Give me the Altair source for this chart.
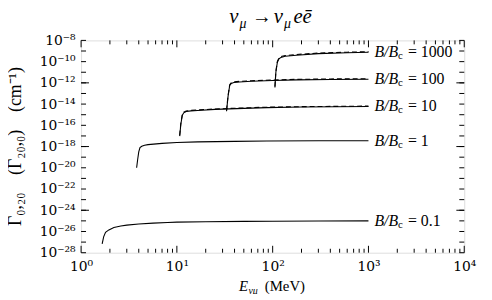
import altair as alt
import pandas as pd

# ---- data (log10 of Gamma, energies in MeV) ----
B_ratios = ["0.1", "1", "10", "100", "1000"]

E_01 = [1.66, 1.72, 1.80, 1.95, 2.2, 2.6, 3.0, 4.0, 5.66, 8, 10, 20, 50, 100, 300, 1000]
L_01 = [-27.16, -26.5, -26.07, -25.85, -25.62, -25.48, -25.40, -25.30, -25.21, -25.15, -25.12, -25.08, -25.05, -25.03, -25.01, -25.0]

E_1 = [3.80, 3.9, 4.0, 4.12, 4.3, 4.6, 5.0, 7, 10, 16.5, 40, 87, 300, 1000]
L_1 = [-20.0, -19.2, -18.5, -18.10, -17.97, -17.88, -17.82, -17.70, -17.62, -17.56, -17.51, -17.48, -17.46, -17.45]

E_10 = [10.7, 11.0, 11.4, 11.8, 12.5, 14, 16.5, 25, 50, 87, 200, 1000]
L_10 = [-17.02, -15.9, -15.05, -14.82, -14.70, -14.64, -14.60, -14.50, -14.40, -14.33, -14.28, -14.23]

E_100 = [33.0, 34.2, 35.6, 37.0, 39.3, 45, 60, 100, 177, 400, 1000]
L_100 = [-14.67, -13.3, -12.25, -12.05, -11.97, -11.92, -11.85, -11.78, -11.72, -11.68, -11.66]

E_1000 = [105.6, 108, 112, 116, 122, 135, 177, 300, 600, 1000]
L_1000 = [-12.44, -11.0, -10.05, -9.75, -9.60, -9.50, -9.40, -9.25, -9.17, -9.12]

# dashed companions (Gamma_{20,0}), nearly on top of the solid ones
E_10d = [10.7, 11.0, 11.4, 11.8, 12.5, 14, 16.5, 25, 50, 87, 200, 1000]
L_10d = [-16.95, -15.8, -14.98, -14.76, -14.65, -14.59, -14.55, -14.46, -14.36, -14.29, -14.24, -14.19]
E_100d = [33.0, 34.2, 35.6, 37.0, 39.3, 45, 60, 100, 177, 400, 1000]
L_100d = [-14.6, -13.2, -12.18, -11.98, -11.91, -11.86, -11.80, -11.73, -11.67, -11.63, -11.61]
E_1000d = [105.6, 108, 112, 116, 122, 135, 177, 300, 600, 1000]
L_1000d = [-12.35, -10.9, -9.98, -9.68, -9.53, -9.43, -9.33, -9.19, -9.11, -9.06]

x_tick_labels = ["10⁰", "10¹", "10²", "10³", "10⁴"]
sup = {"0": "⁰", "1": "¹", "2": "²", "3": "³", "4": "⁴", "5": "⁵", "6": "⁶", "7": "⁷", "8": "⁸", "9": "⁹"}
y_tick_labels = ["10⁻" + "".join(sup[c] for c in str(k)) for k in range(0, 29)]

solid = pd.DataFrame(
    [dict(B=b, E=e, G=10 ** l) for b, es, ls in [("0.1", E_01, L_01), ("1", E_1, L_1), ("10", E_10, L_10),
                                                  ("100", E_100, L_100), ("1000", E_1000, L_1000)]
     for e, l in zip(es, ls)]
)
dashed = pd.DataFrame(
    [dict(B=b, E=e, G=10 ** l) for b, es, ls in [("10", E_10d, L_10d), ("100", E_100d, L_100d), ("1000", E_1000d, L_1000d)]
     for e, l in zip(es, ls)]
)
ends = pd.DataFrame([dict(B=b, E=1000, G=10 ** ls[-1], txt="= " + b) for b, ls in
                     [("0.1", L_01), ("1", L_1), ("10", L_10), ("100", L_100), ("1000", L_1000)]])

W, H = 388, 215
SERIF = "Liberation Serif"
TICKFONT = "DejaVu Serif"
SP = "\u2003"  # em space, does not collapse

xscale = alt.Scale(type="log", domain=[1, 1e4], nice=False)
yscale = alt.Scale(type="log", domain=[1e-28, 1e-8], nice=False)

x_label_expr = "[" + ",".join("'%s'" % s for s in x_tick_labels) + "][round(log(datum.value)/LN10)]"
y_label_expr = "[" + ",".join("'%s'" % s for s in y_tick_labels) + "][round(-log(datum.value)/LN10)]"

xaxis = alt.Axis(values=[1, 10, 100, 1000, 10000], labelExpr=x_label_expr, title=None, ticks=False,
                 domain=False, grid=False, labelPadding=7, labelFlush=False)
yaxis = alt.Axis(values=[10.0 ** (-k) for k in range(8, 29, 2)], labelExpr=y_label_expr,
                 title="Γ₀,₂₀" + SP + "(Γ₂₀,₀)" + SP + "(cm⁻¹)", ticks=False, domain=False, grid=False,
                 labelPadding=6, labelFlush=False,
                 titleX=-66, titleY=107, titleAngle=270, titleAlign="center", titleBaseline="middle")

X = lambda: alt.X("E:Q", scale=xscale, axis=xaxis)
Y = lambda: alt.Y("G:Q", scale=yscale, axis=yaxis)

lines = alt.Chart(solid).mark_line(color="black", strokeWidth=1.1).encode(x=X(), y=Y(), detail="B:N")
dlines = alt.Chart(dashed).mark_line(color="black", strokeWidth=1.1, strokeDash=[5, 3]).encode(
    x=X(), y=Y(), detail="B:N")

# ticks (inward)
x_major = pd.DataFrame({"E": [1, 10, 100, 1000, 10000]})
x_minor = pd.DataFrame({"E": [m * 10 ** k for k in range(0, 4) for m in range(2, 10)]})
y_all = pd.DataFrame({"G": [10.0 ** (-k) for k in range(8, 29)]})
y_major = pd.DataFrame({"G": [1e-12, 1e-18, 1e-24]})


def xr(df, y0, y1):
    return alt.Chart(df).mark_rule(color="black", strokeWidth=1).encode(
        x=X(), y=alt.value(y0), y2=alt.value(y1))


def yr(df, x0, x1):
    return alt.Chart(df).mark_rule(color="black", strokeWidth=1).encode(
        y=Y(), x=alt.value(x0), x2=alt.value(x1))


ticks = [xr(x_major, H, H - 7), xr(x_minor, H, H - 4), xr(x_major, 0, 7), xr(x_minor, 0, 4),
         yr(y_all, 0, 5), yr(y_major, 0, 8), yr(y_all, W, W - 5), yr(y_major, W, W - 8)]

# curve labels  B/B_c = ...
lab_base = alt.Chart(ends).encode(x=X(), y=Y())
labA = lab_base.mark_text(font=SERIF, fontSize=16, fontStyle="italic", align="left", baseline="middle",
                          dx=6, color="black").encode(text=alt.value("B/B"))
labB = lab_base.mark_text(font=SERIF, fontSize=11, align="left", baseline="middle",
                          dx=30, dy=4, color="black").encode(text=alt.value("c"))
labC = lab_base.mark_text(font=SERIF, fontSize=16, align="left", baseline="middle",
                          dx=40, color="black").encode(text="txt:N")

one = alt.Data(values=[{}])


def txt(s, x, y, size, italic=False):
    return alt.Chart(one).mark_text(font=SERIF, fontSize=size, fontStyle="italic" if italic else "normal",
                                    align="left", baseline="alphabetic", color="black").encode(
        x=alt.value(x), y=alt.value(y), text=alt.value(s))


title_parts = [txt("ν", 150, -18, 21, True), txt("μ", 160.5, -13, 14, True), txt("→", 173, -18, 20),
               txt("ν", 195, -18, 21, True), txt("μ", 205.5, -13, 14, True), txt("eē", 215, -18, 21, True)]
xtitle_parts = [txt("E", 160, 254, 15, True), txt("νμ", 169.5, 257, 10, True), txt("(MeV)", 186, 254, 15)]

chart = alt.layer(lines, dlines, *ticks, labA, labB, labC, *title_parts, *xtitle_parts).properties(
    width=W, height=H,
    autosize=alt.AutoSizeParams(type="none"),
    padding={"left": 74, "top": 31, "right": 20, "bottom": 40},
).configure_view(stroke="black", strokeWidth=1.5).configure(background="white").configure_axis(
    labelFont=TICKFONT, labelFontSize=14, labelColor="black",
    titleFont=SERIF, titleFontSize=18, titleFontWeight="normal", titleColor="black")

chart.save("out.html", embed_options={"renderer": "svg", "actions": False})
